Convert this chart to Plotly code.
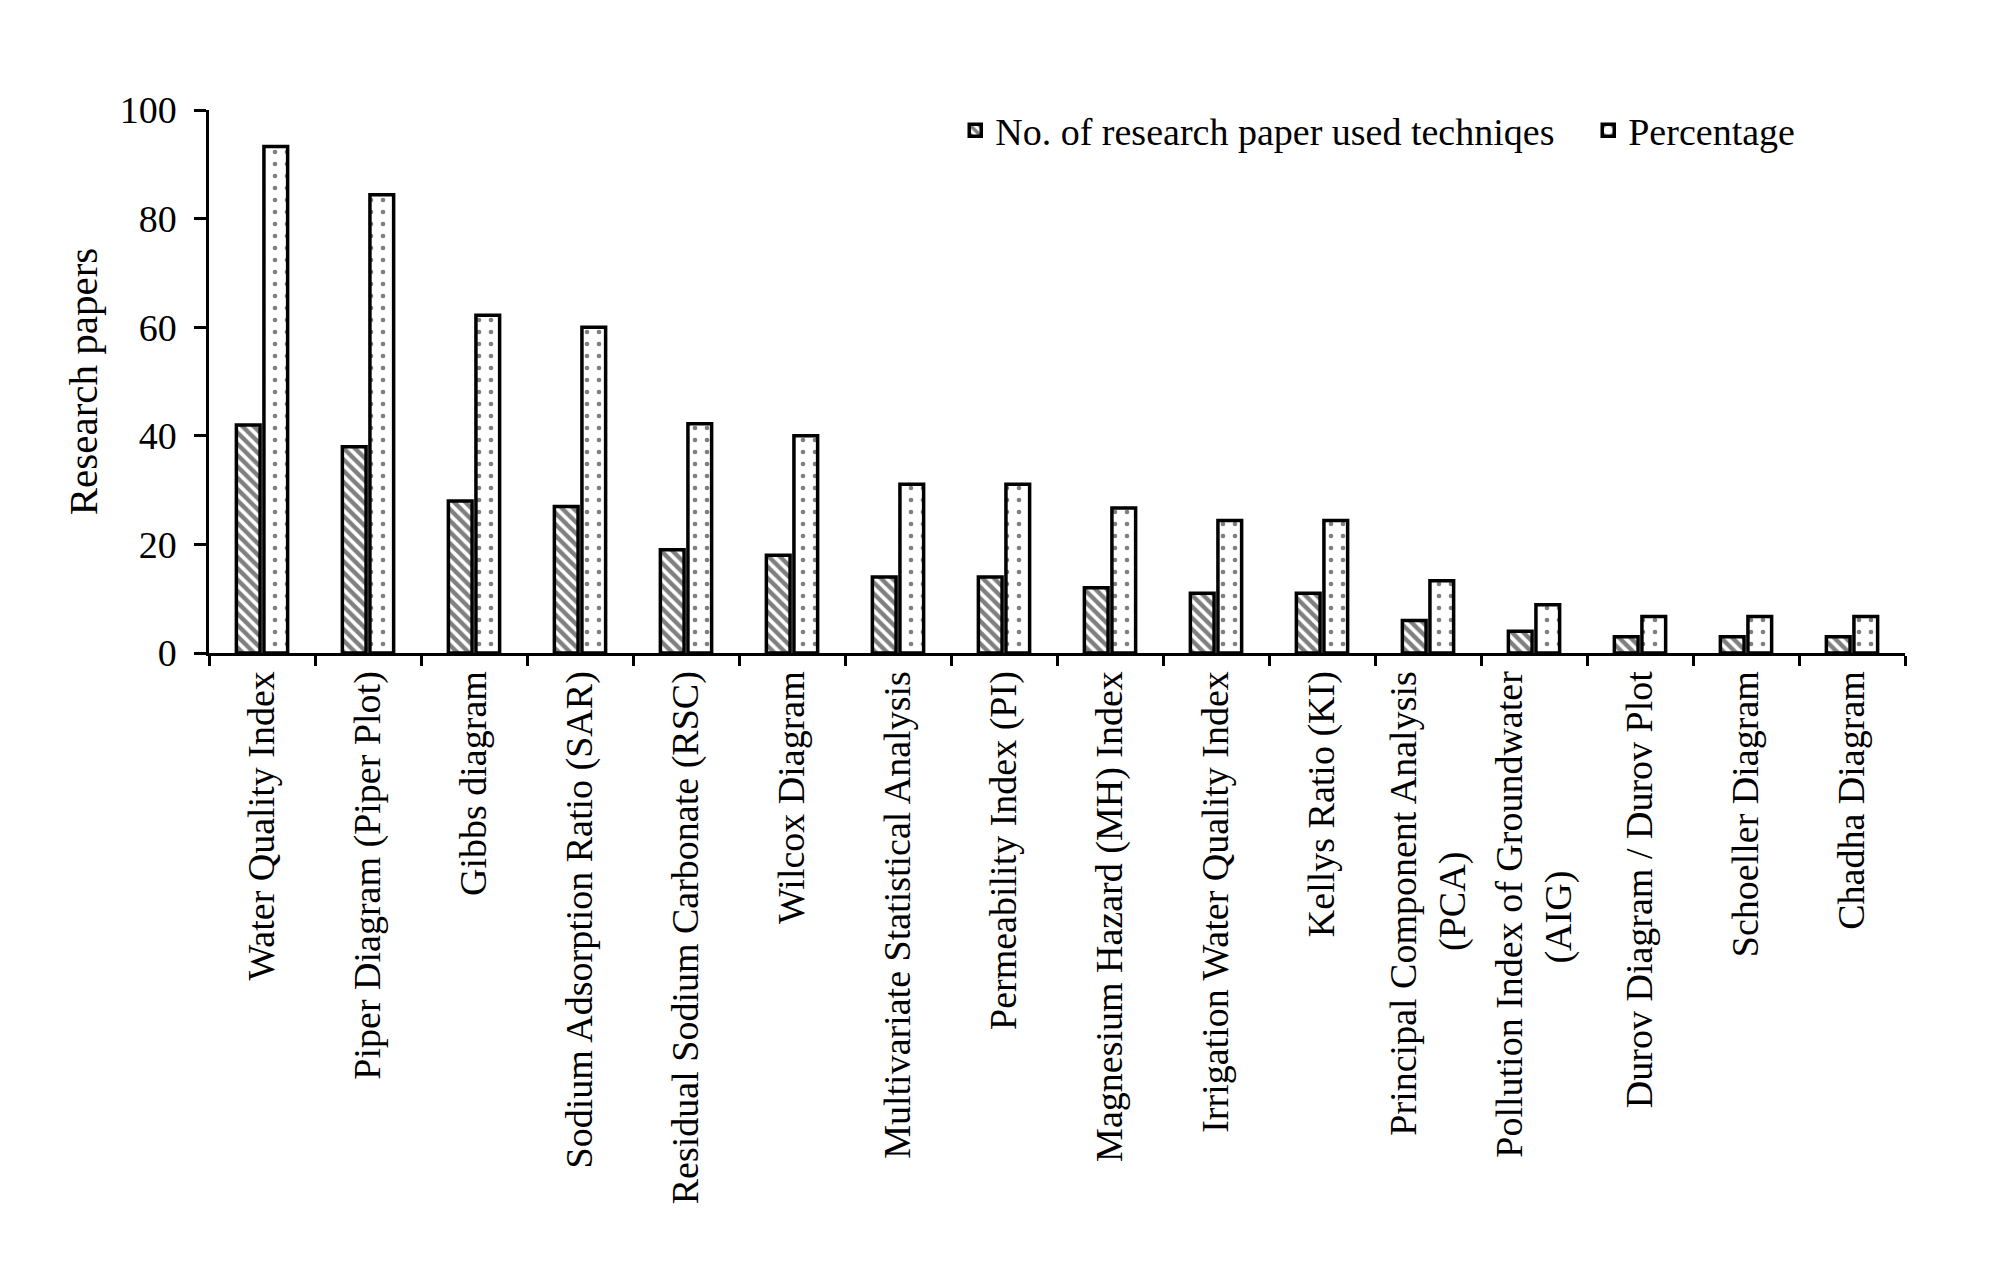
import plotly.graph_objects as go

NB = "\u00a0"

techniques = [
    "Water Quality Index",
    "Piper Diagram (Piper Plot)",
    "Gibbs diagram",
    "Sodium Adsorption Ratio (SAR)",
    "Residual Sodium Carbonate (RSC)",
    "Wilcox Diagram",
    "Multivariate Statistical Analysis",
    "Permeability Index (PI)",
    "Magnesium Hazard (MH) Index",
    "Irrigation Water Quality Index",
    "Kellys Ratio (KI)",
    "Principal Component Analysis<br>(PCA)" + NB * 19,
    "Pollution Index of Groundwater<br>(AIG)" + NB * 21,
    "Durov Diagram / Durov Plot",
    "Schoeller Diagram",
    "Chadha Diagram",
]
papers = [42, 38, 28, 27, 19, 18, 14, 14, 12, 11, 11, 6, 4, 3, 3, 3]
percentage = [93.3, 84.4, 62.2, 60.0, 42.2, 40.0, 31.1, 31.1, 26.7, 24.4, 24.4,
              13.3, 8.9, 6.7, 6.7, 6.7]

font = "Liberation Serif, Times New Roman, serif"

fig = go.Figure()
fig.add_trace(go.Bar(
    x=techniques, y=papers, name="No. of research paper used techniqes",
    marker=dict(color="white", line=dict(color="black", width=3.5),
                pattern=dict(shape="\\", fgcolor="black", bgcolor="white",
                             size=8, solidity=0.55)),
))
fig.add_trace(go.Bar(
    x=techniques, y=percentage, name="Percentage",
    marker=dict(color="white", line=dict(color="black", width=3.5),
                pattern=dict(shape=".", fgcolor="black", bgcolor="white",
                             size=12, solidity=0.12)),
))

fig.update_layout(
    width=2003, height=1273,
    barmode="group", bargap=0.48, bargroupgap=0.14,
    plot_bgcolor="white", paper_bgcolor="white",
    font=dict(family=font, size=38, color="black"),
    margin=dict(l=201, r=106, t=102, b=628, autoexpand=False),
    showlegend=True,
    legend=dict(orientation="h", x=0.44, y=0.962, xanchor="left", yanchor="middle",
                font=dict(size=38), bgcolor="rgba(0,0,0,0)", itemwidth=30,
                entrywidth=588, traceorder="normal"),
)
fig.update_xaxes(
    showline=True, linecolor="black", linewidth=3,
    ticks="outside", tickson="boundaries", ticklen=10, tickwidth=3, tickcolor="black",
    tickangle=-90, tickfont=dict(size=38), automargin=False,
)
fig.update_yaxes(
    range=[0, 100], dtick=20, showgrid=False, zeroline=False,
    showline=True, linecolor="black", linewidth=2.5,
    ticks="outside", ticklen=12, tickwidth=2.5, tickcolor="black",
    ticklabelstandoff=10,
    tickfont=dict(size=38), automargin=False,
    title=dict(text="Research papers", font=dict(size=41), standoff=10),
)

fig.write_html("out.html")
